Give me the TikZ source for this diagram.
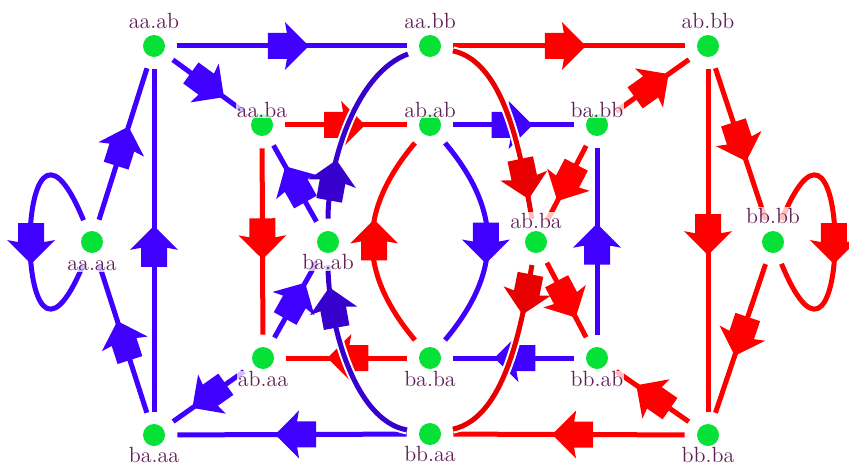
\documentclass[tikz,border=0pt]{standalone}
\usepackage{tikz}
\usetikzlibrary{positioning,decorations.markings}
\definecolor{eblue}{RGB}{64,0,255}
\definecolor{dblue}{RGB}{56,0,205}
\definecolor{ered}{RGB}{255,0,0}
\definecolor{dred}{RGB}{232,0,0}
\definecolor{dotgreen}{RGB}{5,225,55}
\definecolor{lblcol}{RGB}{95,30,85}
\tikzset{
    vtx/.style={circle, fill=dotgreen, minimum size=11pt, inner sep=0pt},
    lbl/.style={text=lblcol, fill=white, fill opacity=0.75, text opacity=1, inner sep=0.5pt, font=\fontsize{11}{13}\selectfont, text height=7.5pt, text depth=0pt},
    flow/.style={postaction={decorate, decoration={markings, mark=at position #1 with {\fill (-9.5pt,-6.5pt) -- (0pt,-6.5pt) -- (-1pt,-12pt) -- (11pt,0pt) -- (-1pt,12pt) -- (0pt,6.5pt) -- (-9.5pt,6.5pt) -- cycle;}}}},
    flow/.default=0.48,
    link/.style={draw, line width=2.5pt, shorten <=6pt, shorten >=6pt},
    bline/.style={link, color=eblue},
    rline/.style={link, color=ered},
    bend/.style={link, color=#1, preaction={draw=white, line width=4.5pt}}
}
\begin{document}
\begin{tikzpicture}[x=0.5pt, y=-0.5pt]
    \useasboundingbox (0,0) rectangle (849,470);
    % states
    \node[vtx] (aaab) at (154,46) {};
    \node[vtx] (aabb) at (430,46) {};
    \node[vtx] (abbb) at (708,46) {};
    \node[vtx] (aaba) at (262,125) {};
    \node[vtx] (abab) at (430,125) {};
    \node[vtx] (babb) at (597,125) {};
    \node[vtx] (aaaa) at (92,242) {};
    \node[vtx] (baab) at (328,242) {};
    \node[vtx] (abba) at (536,242) {};
    \node[vtx] (bbbb) at (773,242) {};
    \node[vtx] (abaa) at (263,358) {};
    \node[vtx] (baba) at (430,358) {};
    \node[vtx] (bbab) at (597,358) {};
    \node[vtx] (baaa) at (154,435) {};
    \node[vtx] (bbaa) at (430,434) {};
    \node[vtx] (bbba) at (708,435) {};

    % blue moves
    \draw[bline, flow] (aaab) -- (aabb);
    \draw[bline, flow] (aaab) -- (aaba);
    \draw[bline, flow] (aaaa) -- (aaab);
    \draw[bline, flow] (baaa) -- (aaab);
    \draw[bline, flow] (baaa) -- (aaaa);
    \draw[bline, flow] (abaa) -- (baaa);
    \draw[bline, flow] (bbaa) -- (baaa);
    \draw[bline, flow] (baab) -- (aaba);
    \draw[bline, flow] (abaa) -- (baab);
    \draw[bline, flow] (abab) -- (babb);
    \draw[bline, flow] (bbab) -- (baba);
    \draw[bline, flow] (bbab) -- (babb);
    \draw[bline, flow=0.5] (aaaa.110) .. controls +(-38pt,92pt) and +(-38pt,-92pt) .. (aaaa.250);

    % red moves
    \draw[rline, flow] (aabb) -- (abbb);
    \draw[rline, flow] (babb) -- (abbb);
    \draw[rline, flow] (abbb) -- (bbba);
    \draw[rline, flow] (abbb) -- (bbbb);
    \draw[rline, flow] (bbbb) -- (bbba);
    \draw[rline, flow] (bbba) -- (bbab);
    \draw[rline, flow] (bbba) -- (bbaa);
    \draw[rline, flow] (aaba) -- (abab);
    \draw[rline, flow] (baba) -- (abaa);
    \draw[rline, flow] (aaba) -- (abaa);
    \draw[rline, flow] (babb) -- (abba);
    \draw[rline, flow] (abba) -- (bbab);
    \draw[rline, flow=0.5] (bbbb.70) .. controls +(38pt,92pt) and +(38pt,-92pt) .. (bbbb.290);

    % curved moves
    \draw[bend=eblue, flow=0.5] (abab) to[out=-50, in=50, looseness=1.2] (baba);
    \draw[bend=ered, flow=0.5] (baba) to[out=130, in=230, looseness=1.2] (abab);
    \draw[bend=dblue, flow=0.23] (baab) to[out=90, in=200, looseness=0.85] (aabb);
    \draw[bend=dblue, flow=0.74] (bbaa) to[out=170, in=-90, looseness=0.85] (baab);
    \draw[bend=dred, flow=0.75] (aabb) to[out=-12, in=100, looseness=0.85] (abba);
    \draw[bend=dred, flow=0.19] (abba) to[out=-100, in=12, looseness=0.85] (bbaa);

    % labels
    \node[lbl, above=2.5pt of aaab] (laaab) {aa.ab};
    \node[lbl, above=2.5pt of aabb] (laabb) {aa.bb};
    \node[lbl, above=2.5pt of abbb] (labbb) {ab.bb};
    \node[lbl, above=-2.5pt of aaba] (laaba) {aa.ba};
    \node[lbl, above=-2.5pt of abab] (labab) {ab.ab};
    \node[lbl, above=-2.5pt of babb] (lbabb) {ba.bb};
    \node[lbl, above=0.5pt of abba] (labba) {ab.ba};
    \node[lbl, above=3pt of bbbb] (lbbbb) {bb.bb};
    \node[lbl, below=0.5pt of aaaa] (laaaa) {aa.aa};
    \node[lbl, below=0pt of baab] (lbaab) {ba.ab};
    \node[lbl, below=0.5pt of abaa] (labaa) {ab.aa};
    \node[lbl, below=0.5pt of baba] (lbaba) {ba.ba};
    \node[lbl, below=0.5pt of bbab] (lbbab) {bb.ab};
    \node[lbl, below=0pt of baaa] (lbaaa) {ba.aa};
    \node[lbl, below=0pt of bbaa] (lbbaa) {bb.aa};
    \node[lbl, below=0pt of bbba] (lbbba) {bb.ba};
\end{tikzpicture}
\end{document}
